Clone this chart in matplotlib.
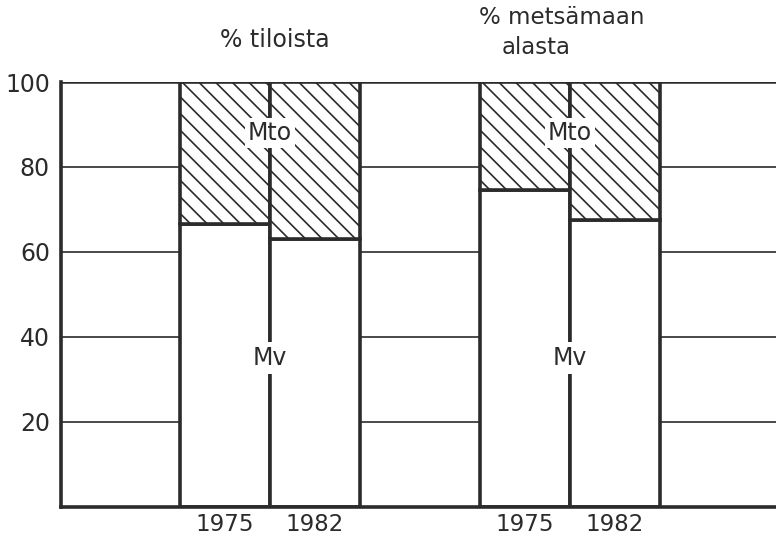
import matplotlib
matplotlib.use('Agg')
import matplotlib.pyplot as plt

plt.rcParams['font.family'] = ['DejaVu Sans']
plt.rcParams['hatch.linewidth'] = 1.2

# data (share of Mv, rest is Mto)
years = ['1975', '1982', '1975', '1982']
group_titles = ['% tiloista', '% metsämaan\nalasta']
mv_tiloista = [66.5, 63.0]
mv_metsamaa = [74.5, 67.5]
yticks = [20, 40, 60, 80, 100]

ink = '#2b2b2b'
mv = mv_tiloista + mv_metsamaa
mto = [100 - v for v in mv]
xpos = [0, 1, 3.333, 4.333]

fig = plt.figure(figsize=(7.76, 5.4), dpi=100)
ax = fig.add_axes([0.0786, 0.062, 0.9214, 0.786])

for y in yticks:
    ax.axhline(y, color=ink, lw=1.8 if y == 100 else 1.2, zorder=1)

ax.bar(xpos, mv, width=1.0, color='white', edgecolor=ink, linewidth=2.6, zorder=2)
ax.bar(xpos, mto, width=1.0, bottom=mv, color='white', edgecolor=ink,
       hatch='\\\\', linewidth=2.6, zorder=2)

for cx in [0.5, 3.833]:
    ax.text(cx, 88, 'Mto', ha='center', va='center', fontsize=17, color=ink,
            bbox=dict(facecolor='white', edgecolor='none', pad=2), zorder=5)
    ax.text(cx, 35, 'Mv', ha='center', va='center', fontsize=17, color=ink,
            bbox=dict(facecolor='white', edgecolor='none', pad=3), zorder=5)

ax.set_xlim(-1.822, 6.122)
ax.set_ylim(0, 100)
ax.set_yticks(yticks)
ax.set_yticklabels([str(v) for v in yticks], fontsize=17, color=ink)
ax.set_xticks(xpos)
ax.set_xticklabels(years, fontsize=16.5, color=ink)
ax.tick_params(axis='y', length=0, pad=8)
ax.tick_params(axis='x', length=0, pad=5)

for s in ['top', 'right']:
    ax.spines[s].set_visible(False)
for s in ['left', 'bottom']:
    ax.spines[s].set_linewidth(2.6)
    ax.spines[s].set_color(ink)
    ax.spines[s].set_zorder(3)

# group headings
fig.text(275 / 776, 1 - 40 / 540, group_titles[0], ha='center', va='center',
         fontsize=17, color=ink)
top, bottom = group_titles[1].split('\n')
fig.text(562 / 776, 1 - 18 / 540, top, ha='center', va='center',
         fontsize=16.5, color=ink)
fig.text(536 / 776, 1 - 47 / 540, bottom, ha='center', va='center',
         fontsize=16.5, color=ink)

fig.savefig('out.png', dpi=100)
